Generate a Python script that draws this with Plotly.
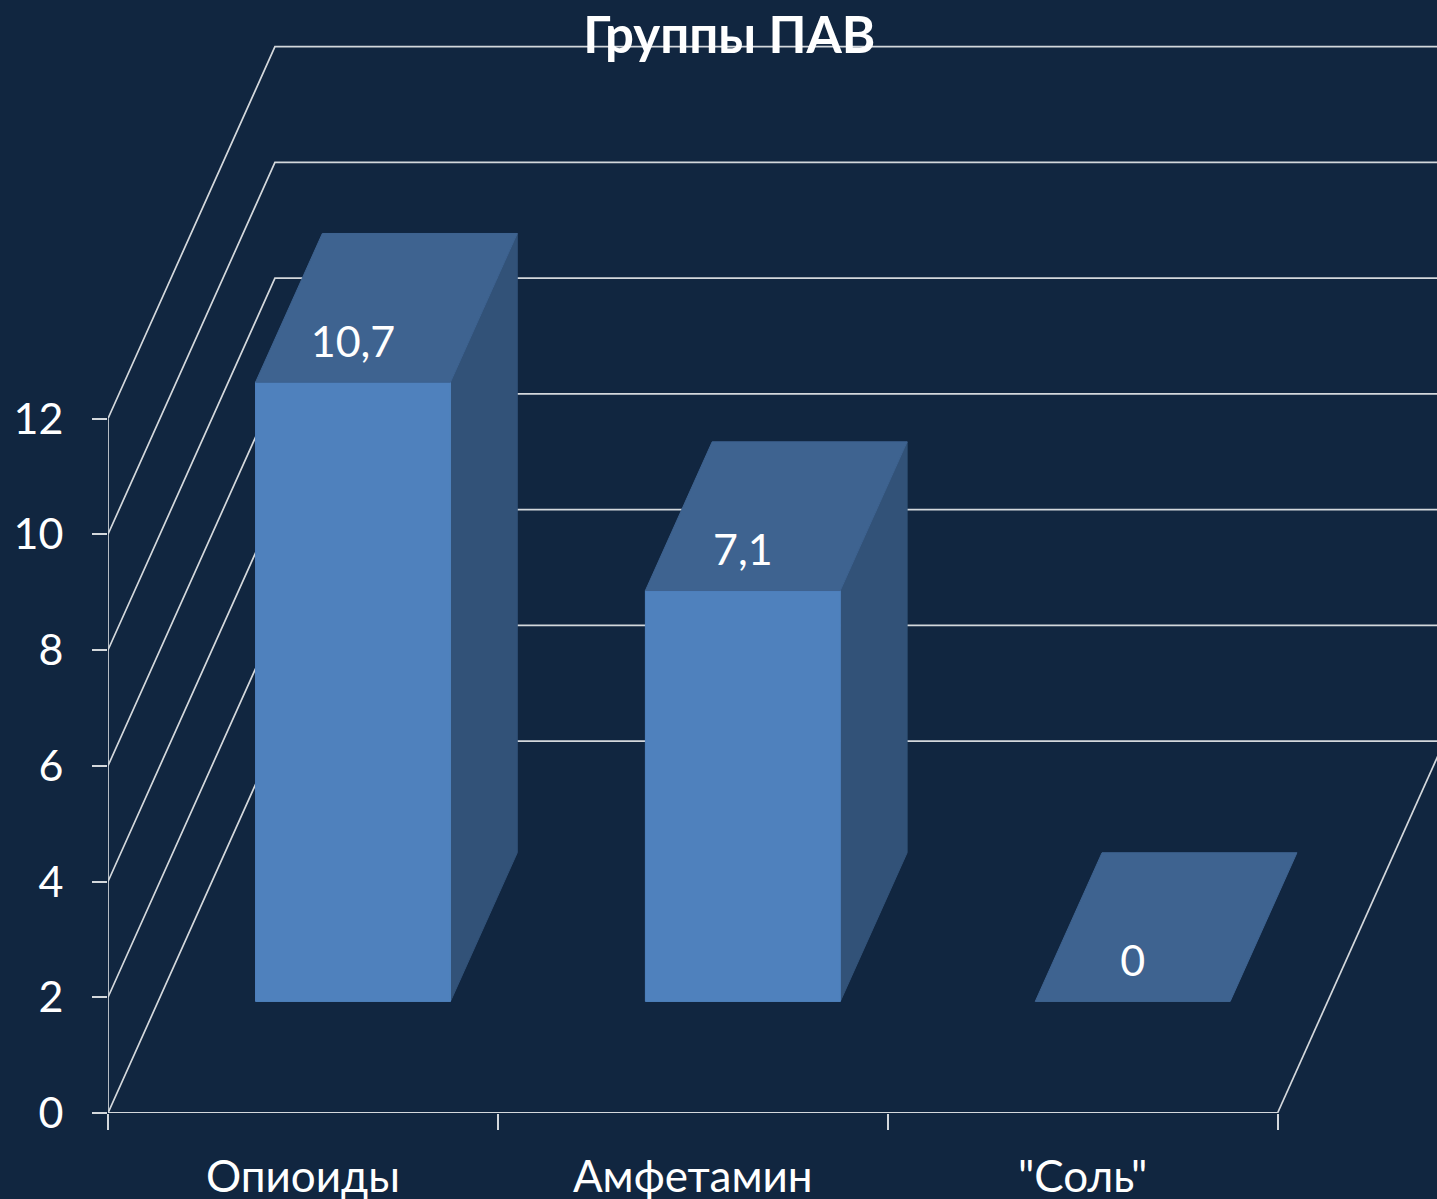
import plotly.graph_objects as go

# Data
categories = ["Опиоиды", "Амфетамин", '"Соль"']
values = [10.7, 7.1, 0]
value_labels = ["10,7", "7,1", "0"]
y_ticks = [0, 2, 4, 6, 8, 10, 12]
title_text = "Группы ПАВ"

# Pseudo-3D geometry, in axis units
DEPTH_X = 167 / 390
DEPTH_Y = 372 / 57.9
BAR_WIDTH = 0.5
D0, D1 = 0.3, 0.7
N = len(categories)
X_MAX = (1437 - 107.5) / 390
Y_MAX = 1113.5 / 57.9

BG = "#112640"
LINE = "#d4d8dc"
FRONT = "#4f81bd"
TOP = "#3e6390"
SIDE = "#325278"
FONT = "Lato, 'Open Sans', sans-serif"


def proj(x, v, d):
    return x + d * DEPTH_X, v + d * DEPTH_Y


def poly(pts, color):
    xs, ys = zip(*pts)
    return go.Scatter(x=list(xs) + [xs[0]], y=list(ys) + [ys[0]], mode="lines", fill="toself",
                      fillcolor=color, line=dict(width=1, color=color), hoverinfo="skip",
                      showlegend=False)


def line(xs, ys, width=1.7):
    return go.Scatter(x=xs, y=ys, mode="lines", line=dict(color=LINE, width=width),
                      hoverinfo="skip", showlegend=False, cliponaxis=False)


fig = go.Figure()

# Walls: diagonal and back grid lines
for t in y_ticks:
    bx, by = proj(0, t, 1)
    fig.add_trace(line([0, bx, X_MAX], [t, by, by]))
# Axis lines and floor edge
fig.add_trace(line([0, 0], [y_ticks[0], y_ticks[-1]]))
fig.add_trace(line([0, N], [0, 0], 2))
ex, ey = proj(N, 0, 1)
fig.add_trace(line([N, ex], [0, ey]))

# Bars
for i, v in enumerate(values):
    left = i + (1 - BAR_WIDTH) / 2
    right = left + BAR_WIDTH
    a = proj(left, 0, D0)
    b = proj(right, 0, D0)
    c = proj(right, v, D0)
    e = proj(left, v, D0)
    f = proj(left, v, D1)
    g = proj(right, v, D1)
    h = proj(right, 0, D1)
    if v > 0:
        fig.add_trace(poly([b, h, g, c], SIDE))
        fig.add_trace(poly([a, b, c, e], FRONT))
    fig.add_trace(poly([e, c, g, f], TOP))

# Value labels
lx, ly = [], []
for i, v in enumerate(values):
    x, y = proj(i + 0.5, v + 0.62, D0)
    lx.append(x)
    ly.append(y)
fig.add_trace(go.Scatter(x=lx, y=ly, mode="text", text=value_labels, textposition="middle center",
                         textfont=dict(family=FONT, size=43, color="white"),
                         hoverinfo="skip", showlegend=False))

fig.update_layout(
    width=1437, height=1199, autosize=False,
    margin=dict(l=107.5, r=0, t=0, b=85.5, pad=0),
    paper_bgcolor=BG, plot_bgcolor=BG, showlegend=False,
    title=dict(text="<b>" + title_text + "</b>", x=(729 - 107.5) / 1329.5, xref="paper", xanchor="center",
               y=1 - 35 / 1199, yref="container", yanchor="middle", automargin=False,
               font=dict(family=FONT, size=51, color="white")),
    xaxis=dict(range=[0, X_MAX], showgrid=False, zeroline=False, showline=False, automargin=False,
               tickmode="array", tickvals=[i + 0.5 for i in range(N)], ticktext=categories,
               ticks="", ticklabelstandoff=34,
               tickfont=dict(family=FONT, size=44, color="white"),
               minor=dict(tickmode="array", tickvals=list(range(N + 1)), ticks="outside", ticklen=16,
                          tickwidth=2, tickcolor=LINE, showgrid=False)),
    yaxis=dict(range=[0, Y_MAX], showgrid=False, zeroline=False, showline=False, automargin=False,
               tickmode="array", tickvals=y_ticks, ticktext=[str(t) for t in y_ticks],
               ticks="outside", ticklen=15, tickwidth=2, tickcolor=LINE, ticklabelstandoff=20,
               tickfont=dict(family=FONT, size=43, color="white")),
)

fig.write_html("out.html", config={"displayModeBar": False},
               post_script="document.body.style.margin='0';document.body.style.overflow='hidden';document.body.style.background='#112640';")
